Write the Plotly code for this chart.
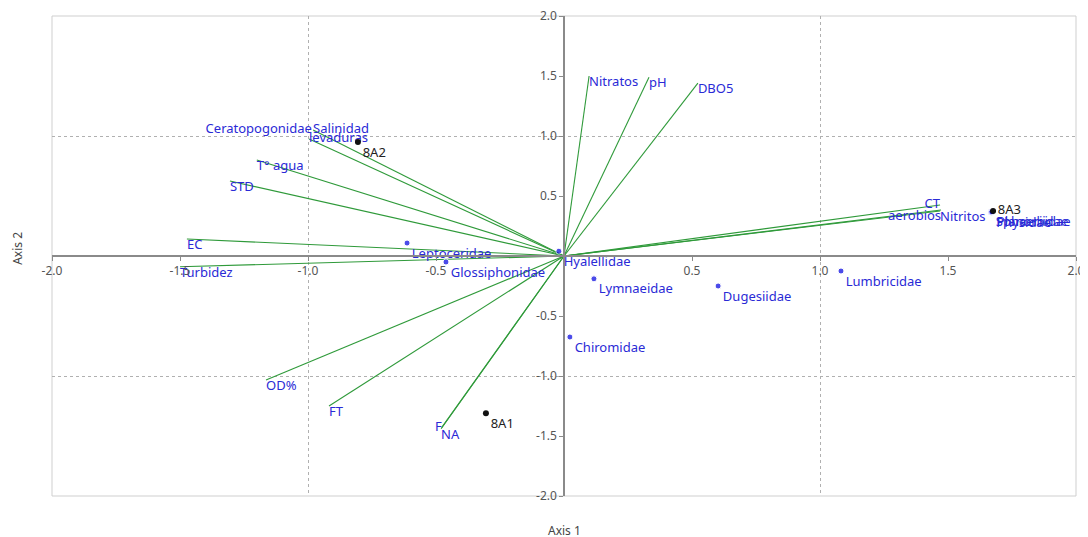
import plotly.graph_objects as go

# Environmental vectors (biplot arrows)
vec_names = ["Nitratos", "pH", "DBO5", "Salinidad", "levaduras", "T° agua", "STD", "EC",
             "Turbidez", "OD%", "FT", "F", "NA", "CT", "aerobios", "Nitritos"]
vec_x = [0.098, 0.332, 0.523, -0.98, -0.996, -1.20, -1.305, -1.473,
         -1.50, -1.164, -0.918, -0.478, -0.48, 1.469, 1.473, 1.469]
vec_y = [1.50, 1.49, 1.44, 1.05, 0.975, 0.80, 0.625, 0.142,
         -0.09, -1.033, -1.25, -1.43, -1.44, 0.425, 0.383, 0.375]
vec_pos = ["bottom right", "bottom right", "bottom right", "middle right", "middle right",
           "bottom right", "bottom right", "bottom right", "bottom right", "bottom right",
           "bottom right", "middle left", "bottom right", "middle left", "bottom left",
           "bottom right"]

# Taxa (blue points)
taxa_names = ["Hyalellidae", "Leptoceridae", "Glossiphonidae", "Lymnaeidae", "Dugesiidae",
              "Lumbricidae", "Chiromidae", "Sphaeriidae", "Physidae", "Planorbidae",
              "Ceratopogonidae"]
taxa_x = [-0.02, -0.613, -0.461, 0.117, 0.602, 1.082, 0.023, 1.668, 1.670, 1.672, -0.985]
taxa_y = [0.04, 0.108, -0.05, -0.19, -0.25, -0.125, -0.675, 0.367, 0.365, 0.369, 1.055]
taxa_pos = ["bottom right"] * 10 + ["middle left"]
taxa_size = [6] * 10 + [0]

# Samples (black points)
samp_names = ["8A2", "8A1", "8A3"]
samp_x = [-0.805, -0.305, 1.676]
samp_y = [0.95, -1.31, 0.375]
samp_pos = ["bottom right", "bottom right", "middle right"]

# Axis ticks
tick_vals = [-2.0, -1.5, -1.0, -0.5, 0.5, 1.0, 1.5, 2.0]
tick_text = ["-2.0", "-1.5", "-1.0", "-0.5", "0.5", "1.0", "1.5", "2.0"]

FONT = "Noto Sans"
BLUE_TXT = "#2a2ad6"
GREEN = "#2f9a3a"

fig = go.Figure()

lx, ly = [], []
for x, y in zip(vec_x, vec_y):
    lx += [0, x, None]
    ly += [0, y, None]
fig.add_trace(go.Scatter(x=lx, y=ly, mode="lines",
                         line=dict(color=GREEN, width=1.1), hoverinfo="skip",
                         showlegend=False))
fig.add_trace(go.Scatter(x=vec_x, y=vec_y, mode="text", text=vec_names,
                         textposition=vec_pos,
                         textfont=dict(family=FONT, size=13, color=BLUE_TXT),
                         showlegend=False))
fig.add_trace(go.Scatter(x=taxa_x, y=taxa_y, mode="markers+text", text=taxa_names,
                         textposition=taxa_pos,
                         marker=dict(color="#0000e0", size=taxa_size),
                         textfont=dict(family=FONT, size=13, color=BLUE_TXT),
                         showlegend=False))
fig.add_trace(go.Scatter(x=samp_x, y=samp_y, mode="markers+text", text=samp_names,
                         textposition=samp_pos,
                         marker=dict(color="#111111", size=6),
                         textfont=dict(family=FONT, size=13, color="#222222"),
                         showlegend=False))

axis_common = dict(
    range=[-2, 2], tickvals=tick_vals, ticktext=tick_text,
    showgrid=False, zeroline=False, automargin=False,
    ticklabeloverflow="allow",
    showline=True, linecolor="#8a8a8a", linewidth=1.5,
    ticks="outside", ticklen=4, tickcolor="#8a8a8a",
    tickfont=dict(family=FONT, size=12, color="#555555"),
    anchor="free", position=0.5,
    minor=dict(dtick=1, tick0=0, showgrid=True, gridcolor="#b0b0b0",
               griddash="dot", gridwidth=1, ticks=""),
)
fig.update_xaxes(**axis_common)
fig.update_yaxes(**axis_common)

fig.add_shape(type="rect", xref="paper", yref="paper", x0=0, y0=0, x1=1, y1=1,
              line=dict(color="#cfcfcf", width=1), layer="below")

fig.add_annotation(text="Axis 1", xref="paper", yref="paper", x=0.5, y=0,
                   yshift=-34, showarrow=False, yanchor="middle",
                   font=dict(family=FONT, size=12, color="#444444"))
fig.add_annotation(text="Axis 2", xref="paper", yref="paper", x=0, y=0.515,
                   xshift=-34, showarrow=False, textangle=-90, xanchor="center",
                   font=dict(family=FONT, size=12, color="#444444"))

# The page body adds an 8px margin; size the figure so the plot area lands
# where it is in the reference (x 52..1076, y 16..496 in window pixels).
fig.update_layout(
    width=1080, height=529,
    margin=dict(l=44, r=12, t=8, b=41),
    plot_bgcolor="white", paper_bgcolor="white",
    font=dict(family=FONT),
)

fig.write_html("out.html")
